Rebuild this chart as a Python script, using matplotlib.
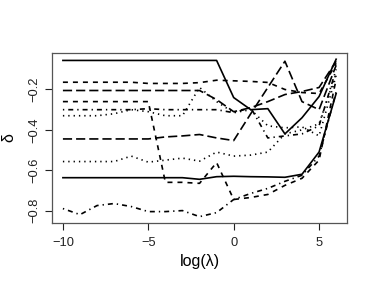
import numpy as np
import matplotlib
matplotlib.use("Agg")
import matplotlib.pyplot as plt

plt.rcParams['font.family'] = ['Liberation Sans', 'DejaVu Sans']

# log(lambda) grid
log_lambda = np.arange(-10, 7)

# coefficient paths
d1 = [-0.056, -0.056, -0.056, -0.056, -0.056, -0.056, -0.056, -0.056, -0.056, -0.056,
      -0.24, -0.30, -0.295, -0.42, -0.34, -0.235, -0.05]
d2 = [-0.164, -0.164, -0.164, -0.164, -0.164, -0.170, -0.170, -0.170, -0.166, -0.154,
      -0.157, -0.160, -0.165, -0.20, -0.215, -0.22, -0.07]
d3 = [-0.33, -0.33, -0.33, -0.32, -0.30, -0.31, -0.33, -0.33, -0.19, -0.26,
      -0.315, -0.30, -0.38, -0.39, -0.385, -0.43, -0.13]
d4 = [-0.30, -0.30, -0.30, -0.30, -0.30, -0.295, -0.30, -0.30, -0.30, -0.30,
      -0.315, -0.29, -0.44, -0.43, -0.42, -0.38, -0.10]
d5 = [-0.205, -0.205, -0.205, -0.205, -0.205, -0.205, -0.205, -0.205, -0.205, -0.25,
      -0.31, -0.29, -0.26, -0.225, -0.21, -0.19, -0.06]
d6 = [-0.637, -0.637, -0.637, -0.637, -0.637, -0.637, -0.637, -0.637, -0.645, -0.632,
      -0.63, -0.632, -0.633, -0.635, -0.62, -0.51, -0.22]
d7 = [-0.26, -0.26, -0.26, -0.26, -0.26, -0.26, -0.66, -0.66, -0.665, -0.562,
      -0.745, -0.735, -0.72, -0.675, -0.64, -0.55, -0.15]
d8 = [-0.557, -0.557, -0.557, -0.557, -0.53, -0.56, -0.55, -0.54, -0.555, -0.51,
      -0.53, -0.525, -0.51, -0.42, -0.40, -0.37, -0.12]
d9 = [-0.79, -0.82, -0.775, -0.765, -0.78, -0.805, -0.805, -0.80, -0.83, -0.81,
      -0.745, -0.715, -0.69, -0.655, -0.625, -0.53, -0.21]
d10 = [-0.445, -0.445, -0.445, -0.445, -0.445, -0.445, -0.435, -0.43, -0.423, -0.44,
       -0.453, -0.32, -0.19, -0.06, -0.26, -0.30, -0.08]

paths = [d1, d2, d3, d4, d5, d6, d7, d8, d9, d10]

# R lty 1..5 recycled
styles = ['-', (0, (3, 3)), (0, (0.8, 2.4)), (0, (0.8, 2.4, 3, 2.4)), (0, (5.5, 2.4))]

fig = plt.figure(figsize=(3.74, 2.91), dpi=100)
ax = fig.add_axes([0.139, 0.234, 0.789, 0.584])

for i, p in enumerate(paths):
    ax.plot(log_lambda, p, color='black', lw=1.2, linestyle=styles[i % 5])

ax.set_xlim(-10.64, 6.64)
ax.set_ylim(-0.861, -0.019)
ax.set_xticks([-10, -5, 0, 5])
ax.set_xticklabels(['\u221210', '\u22125', '0', '5'])
ax.set_yticks([-0.8, -0.6, -0.4, -0.2])
ax.set_yticklabels(['\u22120.8', '\u22120.6', '\u22120.4', '\u22120.2'],
                   rotation=90, va='center')
ax.tick_params(direction='out', length=5, width=0.8, labelsize=9.3, colors='#222222')
ax.tick_params(axis='x', pad=5)
ax.tick_params(axis='y', pad=3)
for s in ax.spines.values():
    s.set_color('#555555')
    s.set_linewidth(0.9)

ax.set_xlabel('log(\u03bb)', fontsize=11.5, labelpad=4)
ax.set_ylabel('\u03b4', fontsize=11.5, labelpad=9)

fig.savefig('out.png', dpi=100)
